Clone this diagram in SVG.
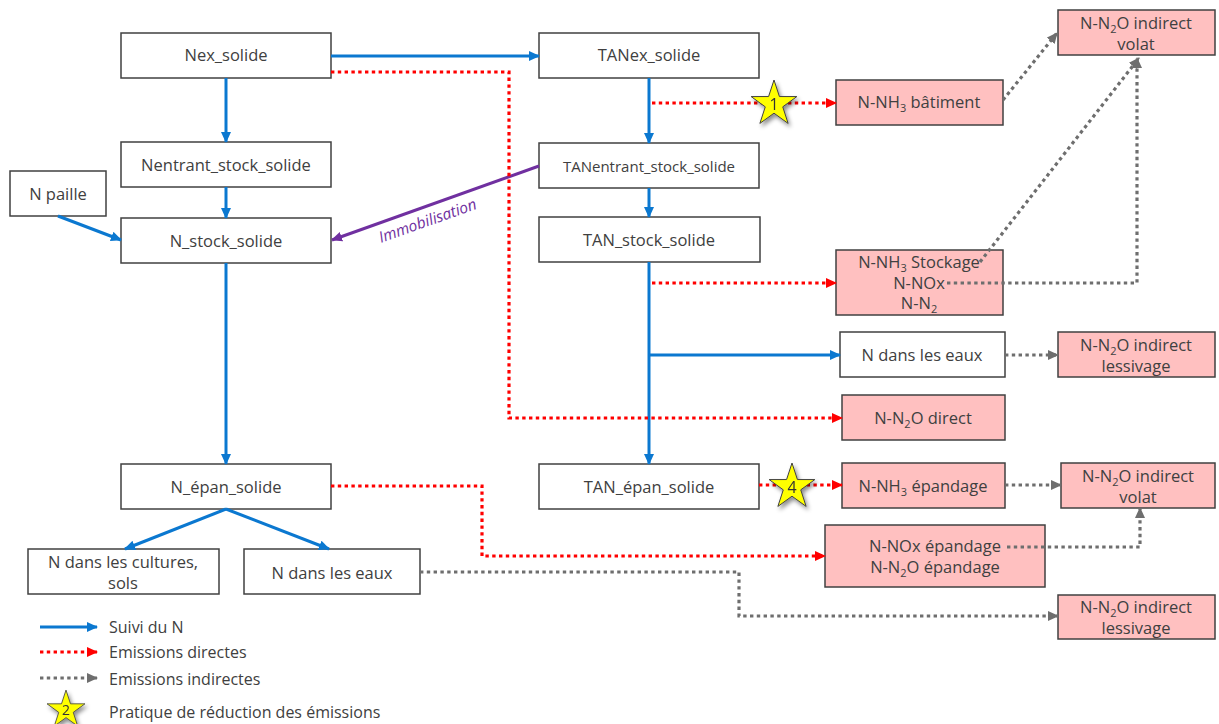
<svg xmlns="http://www.w3.org/2000/svg" width="1219" height="724" viewBox="0 0 1219 724">
  <style>
    text { font-family: "Open Sans", "Noto Sans", "DejaVu Sans", sans-serif; font-size: 16.5px; fill: #404040; text-anchor: middle; }
    .box { fill: #ffffff; stroke: #404040; stroke-width: 1.5; }
    .emis { fill: #ffc0c0; stroke: #404040; stroke-width: 1.5; }
    .sub { font-size: 11px; }
    .flow { fill: none; stroke: #0b78d0; stroke-width: 3; }
    .direct { fill: none; stroke: #ff0000; stroke-width: 3.2; stroke-dasharray: 3.4 3.4; }
    .indirect { fill: none; stroke: #6e6e6e; stroke-width: 3.2; stroke-dasharray: 3.4 3.4; }
    .immo { fill: none; stroke: #7030a0; stroke-width: 3; }
    .legend { text-anchor: start; font-size: 16px; }
    .star { fill: #ffff00; stroke: #404040; stroke-width: 1; }
    .num { font-size: 16px; fill: #333333; }
  </style>
  <defs>
    <marker id="arrow-blue" markerUnits="userSpaceOnUse" markerWidth="11" markerHeight="11" refX="10" refY="5" orient="auto">
      <path d="M0,0 L11,5 L0,10 z" fill="#0b78d0"/>
    </marker>
    <marker id="arrow-red" markerUnits="userSpaceOnUse" markerWidth="11" markerHeight="11" refX="10" refY="5" orient="auto">
      <path d="M0,0 L11,5 L0,10 z" fill="#ff0000"/>
    </marker>
    <marker id="arrow-grey" markerUnits="userSpaceOnUse" markerWidth="11" markerHeight="11" refX="10" refY="5" orient="auto">
      <path d="M0,0 L11,5 L0,10 z" fill="#6e6e6e"/>
    </marker>
    <marker id="arrow-purple" markerUnits="userSpaceOnUse" markerWidth="11" markerHeight="11" refX="10" refY="5" orient="auto">
      <path d="M0,0 L11,5 L0,10 z" fill="#7030a0"/>
    </marker>
    <filter id="shadow" x="-30%" y="-30%" width="170%" height="170%">
      <feDropShadow dx="2" dy="3" stdDeviation="2" flood-color="#000000" flood-opacity="0.45"/>
    </filter>
    <polygon id="star5" points="0,-24 5.41,-7.44 22.83,-7.42 8.75,2.84 14.11,19.42 0,9.2 -14.11,19.42 -8.75,2.84 -22.83,-7.42 -5.41,-7.44"/>
  </defs>

  <!-- nitrogen flow, left column -->
  <g id="nex-solide">
    <rect class="box" x="121" y="33" width="210" height="45"/>
    <text x="226" y="61">Nex_solide</text>
  </g>
  <g id="nentrant-stock-solide">
    <rect class="box" x="121" y="142" width="210" height="45"/>
    <text x="226" y="171">Nentrant_stock_solide</text>
  </g>
  <g id="n-paille">
    <rect class="box" x="10" y="171" width="96" height="45"/>
    <text x="58" y="200">N paille</text>
  </g>
  <g id="n-stock-solide">
    <rect class="box" x="121" y="218" width="210" height="45"/>
    <text x="226" y="247">N_stock_solide</text>
  </g>
  <g id="n-epan-solide">
    <rect class="box" x="121" y="464" width="210" height="45"/>
    <text x="226" y="493">N_épan_solide</text>
  </g>
  <g id="n-cultures-sols">
    <rect class="box" x="28" y="549" width="191" height="45"/>
    <text x="123" y="568">N dans les cultures,</text>
    <text x="123" y="589">sols</text>
  </g>
  <g id="n-eaux-epandage">
    <rect class="box" x="244" y="549" width="176" height="45"/>
    <text x="332" y="579">N dans les eaux</text>
  </g>

  <!-- TAN column -->
  <g id="tanex-solide">
    <rect class="box" x="539" y="33" width="220" height="45"/>
    <text x="649" y="61">TANex_solide</text>
  </g>
  <g id="tanentrant-stock-solide">
    <rect class="box" x="539" y="143" width="220" height="45"/>
    <text x="649" y="172" style="font-size:15px">TANentrant_stock_solide</text>
  </g>
  <g id="tan-stock-solide">
    <rect class="box" x="539" y="217" width="221" height="45"/>
    <text x="649" y="246">TAN_stock_solide</text>
  </g>
  <g id="tan-epan-solide">
    <rect class="box" x="539" y="464" width="220" height="45"/>
    <text x="649" y="493">TAN_épan_solide</text>
  </g>

  <!-- emissions -->
  <g id="nh3-batiment">
    <rect class="emis" x="836" y="80" width="167" height="45"/>
    <text x="919" y="108">N-NH<tspan class="sub" dy="4">3</tspan><tspan dy="-4"> bâtiment</tspan></text>
  </g>
  <g id="n2o-indirect-volat-haut">
    <rect class="emis" x="1058" y="10" width="157" height="45"/>
    <text x="1136" y="29">N-N<tspan class="sub" dy="4">2</tspan><tspan dy="-4">O indirect</tspan></text>
    <text x="1136" y="50">volat</text>
  </g>
  <g id="stockage">
    <rect class="emis" x="836" y="250" width="167" height="65"/>
    <text x="919" y="268">N-NH<tspan class="sub" dy="4">3</tspan><tspan dy="-4"> Stockage</tspan></text>
    <text x="919" y="289">N-NOx</text>
    <text x="919" y="309">N-N<tspan class="sub" dy="4">2</tspan></text>
  </g>
  <g id="n-eaux-stockage">
    <rect class="box" x="840" y="332" width="165" height="45"/>
    <text x="922" y="361">N dans les eaux</text>
  </g>
  <g id="n2o-indirect-lessivage-haut">
    <rect class="emis" x="1058" y="332" width="157" height="45"/>
    <text x="1136" y="351">N-N<tspan class="sub" dy="4">2</tspan><tspan dy="-4">O indirect</tspan></text>
    <text x="1136" y="372">lessivage</text>
  </g>
  <g id="n2o-direct">
    <rect class="emis" x="842" y="395" width="163" height="45"/>
    <text x="923" y="424">N-N<tspan class="sub" dy="4">2</tspan><tspan dy="-4">O direct</tspan></text>
  </g>
  <g id="nh3-epandage">
    <rect class="emis" x="842" y="463" width="163" height="45"/>
    <text x="923" y="492">N-NH<tspan class="sub" dy="4">3</tspan><tspan dy="-4"> épandage</tspan></text>
  </g>
  <g id="n2o-indirect-volat-bas">
    <rect class="emis" x="1061" y="463" width="154" height="45"/>
    <text x="1138" y="482">N-N<tspan class="sub" dy="4">2</tspan><tspan dy="-4">O indirect</tspan></text>
    <text x="1138" y="503">volat</text>
  </g>
  <g id="nox-n2o-epandage">
    <rect class="emis" x="825" y="525" width="220" height="62"/>
    <text x="935" y="552">N-NOx épandage</text>
    <text x="935" y="573">N-N<tspan class="sub" dy="4">2</tspan><tspan dy="-4">O épandage</tspan></text>
  </g>
  <g id="n2o-indirect-lessivage-bas">
    <rect class="emis" x="1058" y="595" width="157" height="44"/>
    <text x="1136" y="613">N-N<tspan class="sub" dy="4">2</tspan><tspan dy="-4">O indirect</tspan></text>
    <text x="1136" y="634">lessivage</text>
  </g>

  <!-- connectors -->
  <g id="connectors">
    <path class="immo" d="M539,166 L332,240" marker-end="url(#arrow-purple)"/>
    <text transform="translate(428,222) rotate(-19.6)" y="4" style="font-size:15.5px;font-style:italic;fill:#7030a0">Immobilisation</text>

    <path class="flow" d="M331,56 H539" marker-end="url(#arrow-blue)"/>
    <path class="flow" d="M226,78 V142" marker-end="url(#arrow-blue)"/>
    <path class="flow" d="M226,187 V218" marker-end="url(#arrow-blue)"/>
    <path class="flow" d="M58,216 L121,240" marker-end="url(#arrow-blue)"/>
    <path class="flow" d="M226,263 V464" marker-end="url(#arrow-blue)"/>
    <path class="flow" d="M226,509 L125,549" marker-end="url(#arrow-blue)"/>
    <path class="flow" d="M226,509 L329,549" marker-end="url(#arrow-blue)"/>
    <path class="flow" d="M649,78 V143" marker-end="url(#arrow-blue)"/>
    <path class="flow" d="M649,188 V217" marker-end="url(#arrow-blue)"/>
    <path class="flow" d="M649,262 V464" marker-end="url(#arrow-blue)"/>
    <path class="flow" d="M649,355 H840" marker-end="url(#arrow-blue)"/>

    <path class="direct" d="M331,72 H509 V418 H842" marker-end="url(#arrow-red)"/>
    <path class="direct" d="M652,103 H836" marker-end="url(#arrow-red)"/>
    <path class="direct" d="M652,283 H836" marker-end="url(#arrow-red)"/>
    <path class="direct" d="M759,485 H842" marker-end="url(#arrow-red)"/>
    <path class="direct" d="M331,486 H482 V556 H825" marker-end="url(#arrow-red)"/>

    <path class="indirect" d="M1003,100 L1057,33" marker-end="url(#arrow-grey)"/>
    <path class="indirect" d="M980,262 L1139,58" marker-end="url(#arrow-grey)"/>
    <path class="indirect" d="M947,283 H1137 V58" marker-end="url(#arrow-grey)"/>
    <path class="indirect" d="M1005,355 H1058" marker-end="url(#arrow-grey)"/>
    <path class="indirect" d="M1005,485 H1061" marker-end="url(#arrow-grey)"/>
    <path class="indirect" d="M1007,547 H1140 V508" marker-end="url(#arrow-grey)"/>
    <path class="indirect" d="M420,572 H739 V616 H1058" marker-end="url(#arrow-grey)"/>
  </g>

  <!-- reduction practices -->
  <g id="pratique-1" filter="url(#shadow)">
    <use href="#star5" class="star" transform="translate(774,104)"/>
    <text class="num" x="774" y="110">1</text>
  </g>
  <g id="pratique-4" filter="url(#shadow)">
    <use href="#star5" class="star" transform="translate(792,487)"/>
    <text class="num" x="792" y="493">4</text>
  </g>

  <!-- legend -->
  <g id="legend">
    <path class="flow" d="M40,627 H97" marker-end="url(#arrow-blue)"/>
    <text class="legend" x="109" y="633">Suivi du N</text>
    <path class="direct" d="M40,652 H97" marker-end="url(#arrow-red)"/>
    <text class="legend" x="109" y="658">Emissions directes</text>
    <path class="indirect" d="M40,678 H97" marker-end="url(#arrow-grey)"/>
    <text class="legend" x="109" y="685">Emissions indirectes</text>
    <g filter="url(#shadow)">
      <use href="#star5" class="star" transform="translate(66,710) scale(0.83)"/>
      <text class="num" x="66" y="715" style="font-size:14px">2</text>
    </g>
    <text class="legend" x="109" y="718">Pratique de réduction des émissions</text>
  </g>
</svg>
